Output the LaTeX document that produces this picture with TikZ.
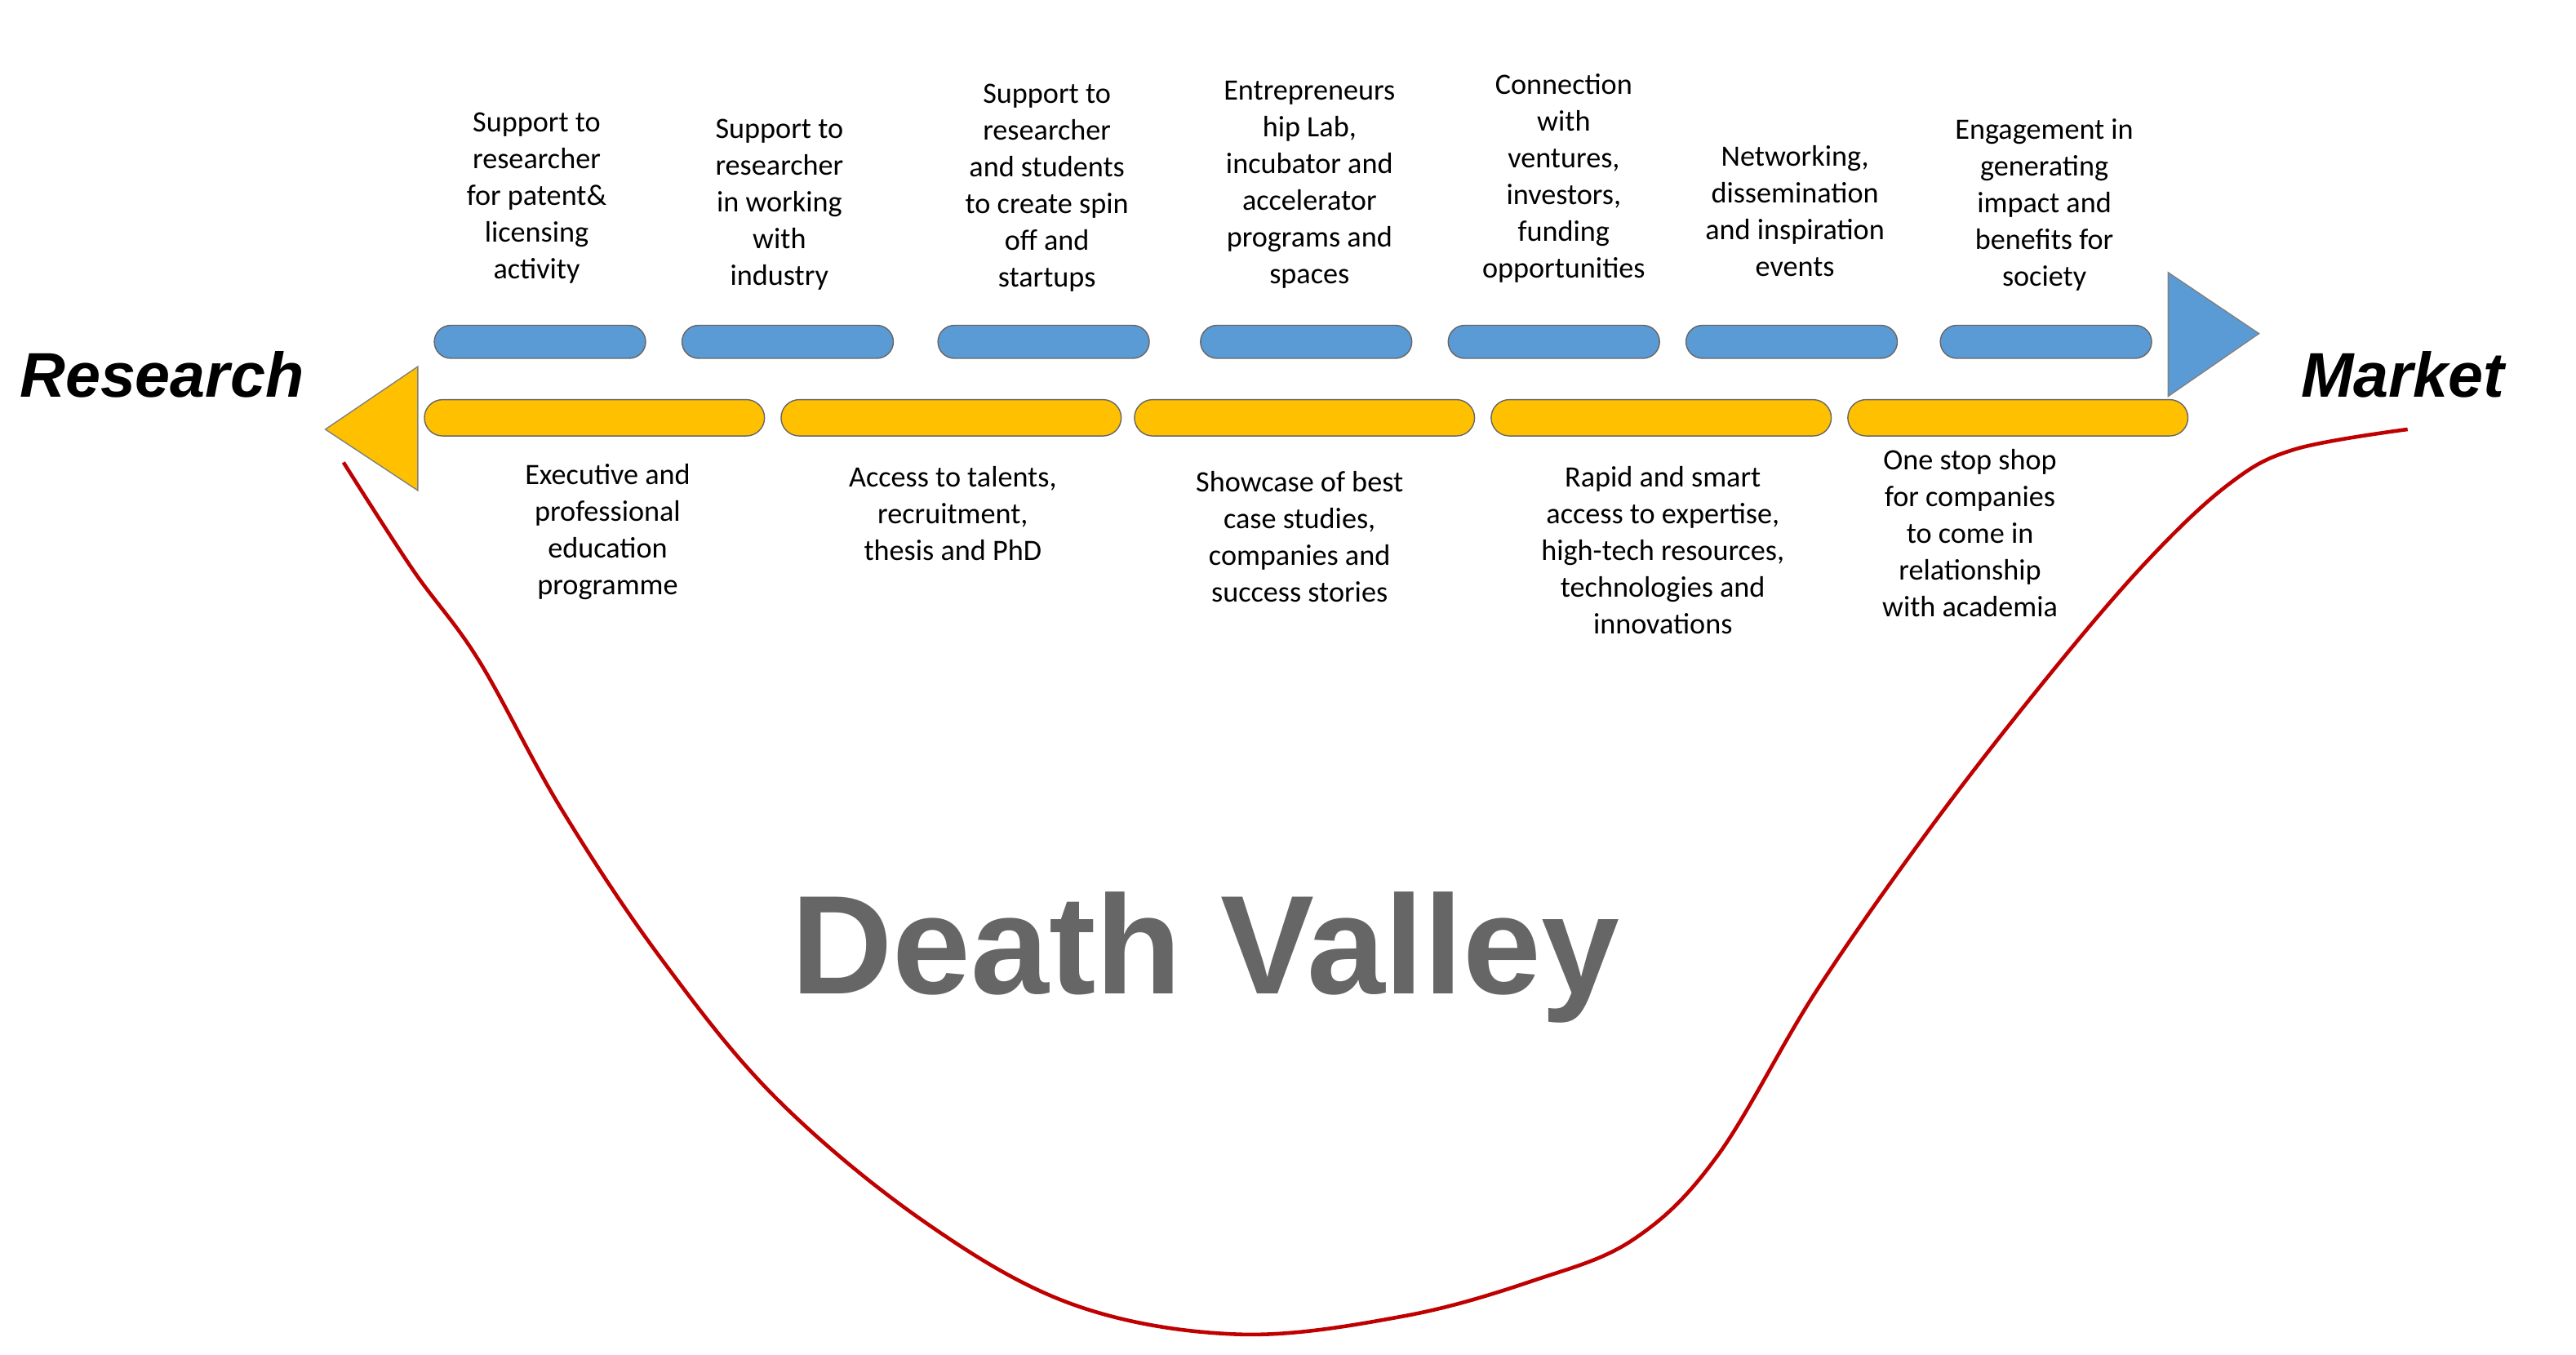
\documentclass[tikz,border=0pt]{standalone}
\usepackage{fontspec}
\setmainfont{Carlito}
\newfontfamily\headf{Liberation Sans}
\begin{document}
\begin{tikzpicture}[x=0.02023cm,y=-0.02023cm,
  bpill/.style={draw=black!60,line width=0.4pt,rounded corners=10*0.2023mm,minimum width=128*0.2023mm,minimum height=20*0.2023mm,inner sep=0pt},
  ypill/.style={draw=black!60,line width=0.4pt,rounded corners=11*0.2023mm,minimum width=206*0.2023mm,minimum height=22*0.2023mm,inner sep=0pt},
  lab/.style={align=center,font=\fontsize{10.3}{12.8}\selectfont,inner sep=0pt},
  big/.style={font=\headf\bfseries\itshape\fontsize{22}{26}\selectfont}]
\useasboundingbox (0,0) rectangle (1560,820.5);
\definecolor{bl}{RGB}{91,155,213}\definecolor{yl}{RGB}{255,192,0}
\tikzset{bpill/.append style={fill=bl},ypill/.append style={fill=yl}}
% pills
\foreach \x [count=\i] in {327,477,632,791,941,1085,1239}{\node[bpill] (b\i) at (\x,207) {};}
\foreach \x [count=\i] in {360,576,790,1006,1222}{\node[ypill] (y\i) at (\x,253) {};}
\fill[bl,draw=black!50] (1313,165) -- (1313,240) -- (1368,202) -- cycle;
\fill[yl,draw=black!50] (253,222) -- (253,297) -- (197,260) -- cycle;
\node[big] (research) at (98,227) {Research};
\node[big] (market) at (1455,227) {Market};
% labels
\node[lab] (t1) at (325,120) {Support to\\researcher\\for patent\&\\licensing\\activity};
\node[lab] (t2) at (472,124) {Support to\\researcher\\in working\\with\\industry};
\node[lab] (t3) at (634,114) {Support to\\researcher\\and students\\to create spin\\off and\\startups};
\node[lab] (t4) at (793,112) {Entrepreneurs\\hip Lab,\\incubator and\\accelerator\\programs and\\spaces};
\node[lab] (t5) at (947,108) {Connection\\with\\ventures,\\investors,\\funding\\opportunities};
\node[lab] (t6) at (1087,128) {Networking,\\dissemination\\and inspiration\\events};
\node[lab] (t7) at (1238,124) {Engagement in\\generating\\impact and\\benefits for\\society};
\node[lab] (u1) at (368,322) {Executive and\\professional\\education\\programme};
\node[lab] (u2) at (577,311) {Access to talents,\\recruitment,\\thesis and PhD};
\node[lab] (u3) at (787,325) {Showcase of best\\case studies,\\companies and\\success stories};
\node[lab] (u4) at (1007,333) {Rapid and smart\\access to expertise,\\high-tech resources,\\technologies and\\innovations};
\node[lab] (u5) at (1193,323) {One stop shop\\for companies\\to come in\\relationship\\with academia};
% valley curve
\draw[red!75!black,line width=1.3pt] plot[smooth,tension=0.6] coordinates {(208,280) (250,345) (290,400) (340,490) (400,580) (470,665) (560,740) (650,790) (750,808) (850,797) (930,775) (990,750) (1040,700) (1100,600) (1170,500) (1240,410) (1300,340) (1350,293) (1390,272) (1458,260)};
% Death Valley
\node[font=\headf\bfseries\fontsize{49}{58}\selectfont,text=black!60] (dv) at (730,580) {Death Valley};
\end{tikzpicture}
\end{document}
